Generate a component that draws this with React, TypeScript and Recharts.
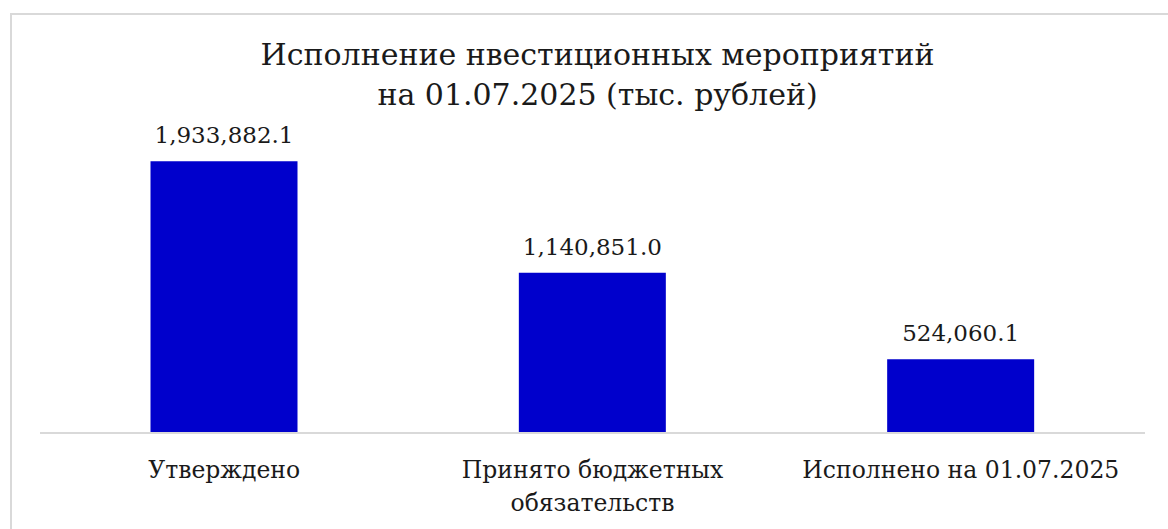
import { BarChart, Bar, XAxis, YAxis, LabelList } from 'recharts'

const categories = ['Утверждено', 'Принято бюджетных\nобязательств', 'Исполнено на 01.07.2025']
const values = [1933882.1, 1140851.0, 524060.1]
const titleLines = ['Исполнение нвестиционных мероприятий', 'на 01.07.2025 (тыс. рублей)']

const data = categories.map((name, i) => ({ name, value: values[i] }))

const FONT = "'DejaVu Serif', serif"

const fmt = (v: any) =>
  Number(v).toLocaleString('en-US', { minimumFractionDigits: 1, maximumFractionDigits: 1 })

function CategoryTick(props: any) {
  const { x, y, payload } = props
  const lines = String(payload.value).split('\n')
  return (
    <text x={x} y={y} textAnchor="middle" fill="#1a1a1a" style={{ fontFamily: FONT, fontSize: 23.5 }}>
      {lines.map((l, i) => (
        <tspan key={i} x={x} dy={i === 0 ? 37 : 33}>{l}</tspan>
      ))}
    </text>
  )
}

export default function App() {
  return (
    <div style={{ position: 'fixed', left: 0, top: 0, width: 1168, height: 529, overflow: 'hidden', background: '#fff' }}>
      <div style={{ position: 'absolute', left: 10, top: 13, width: 1300, height: 700, border: '2px solid #d9d9d9' }} />
      <div style={{ position: 'absolute', left: 0, top: 0, width: 1195, textAlign: 'center', fontFamily: FONT, fontSize: 30, lineHeight: '40px', color: '#1a1a1a', paddingTop: 35 }}>
        {titleLines.map((t, i) => <div key={i}>{t}</div>)}
      </div>
      <div style={{ position: 'absolute', left: 0, top: 0 }}>
        <BarChart width={1168} height={529} data={data} margin={{ top: 152, right: 23, bottom: 0, left: 40 }} barCategoryGap="30%" style={{ fontFamily: FONT }}>
          <YAxis hide domain={[0, 2000000]} />
          <XAxis dataKey="name" height={96} interval={0} tickLine={false} axisLine={{ stroke: '#d9d9d9', strokeWidth: 2 }} tick={<CategoryTick />} />
          <Bar dataKey="value" fill="#0000cc" isAnimationActive={false}>
            <LabelList dataKey="value" position="top" offset={18} formatter={fmt} fill="#1a1a1a" style={{ fontFamily: FONT, fontSize: 23 }} />
          </Bar>
        </BarChart>
      </div>
    </div>
  )
}
